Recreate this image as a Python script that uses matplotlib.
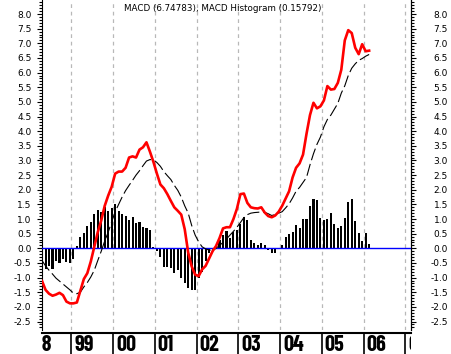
import numpy as np
import matplotlib
matplotlib.use("Agg")
import matplotlib.pyplot as plt
from matplotlib.ticker import MultipleLocator
from matplotlib.transforms import Bbox, TransformedBbox

plt.rcParams['axes.unicode_minus'] = False
plt.rcParams['font.family'] = 'DejaVu Sans'

# monthly values, first point ~ April/May 1998
start_year = 1998.3
macd = [-1.12, -1.42, -1.55, -1.62, -1.58, -1.52, -1.60, -1.82, -1.88, -1.88,
        -1.85, -1.45, -1.05, -0.85, -0.45, 0.05, 0.55, 0.95, 1.45, 1.80,
        2.10, 2.55, 2.62, 2.62, 2.75, 3.10, 3.14, 3.10, 3.37, 3.45,
        3.62, 3.30, 2.95, 2.55, 2.18, 2.05, 1.85, 1.62, 1.40, 1.28,
        1.15, 0.65, -0.15, -0.62, -0.90, -0.95, -0.72, -0.60, -0.35, -0.10,
        0.08, 0.35, 0.68, 0.72, 0.72, 1.00, 1.35, 1.85, 1.87, 1.55,
        1.40, 1.37, 1.36, 1.40, 1.22, 1.10, 1.06, 1.12, 1.25, 1.45,
        1.70, 1.95, 2.42, 2.75, 2.90, 3.20, 3.91, 4.55, 4.97, 4.78,
        4.85, 5.05, 5.54, 5.42, 5.44, 5.65, 6.10, 7.10, 7.45, 7.35,
        6.85, 6.63, 6.97, 6.73, 6.75]
signal = [-0.42, -0.60, -0.75, -0.88, -1.02, -1.12, -1.22, -1.32, -1.42, -1.53,
          -1.55, -1.50, -1.32, -1.17, -0.98, -0.75, -0.42, -0.10, 0.25, 0.55,
          0.90, 1.25, 1.50, 1.75, 1.97, 2.15, 2.32, 2.50, 2.65, 2.82,
          2.98, 3.03, 3.02, 2.93, 2.80, 2.62, 2.48, 2.35, 2.15, 1.98,
          1.75, 1.45, 1.20, 0.78, 0.45, 0.22, 0.05, -0.02, -0.06, -0.07,
          0.00, 0.10, 0.20, 0.32, 0.45, 0.58, 0.72, 0.88, 1.05, 1.15,
          1.20, 1.22, 1.23, 1.24, 1.23, 1.18, 1.12, 1.15, 1.20, 1.25,
          1.38, 1.52, 1.72, 1.95, 2.08, 2.25, 2.42, 2.85, 3.23, 3.55,
          3.80, 4.15, 4.40, 4.55, 4.75, 4.95, 5.30, 5.55, 5.90, 6.15,
          6.30, 6.42, 6.48, 6.56, 6.62]
hist = [-0.72, -0.72, -0.62, -0.70, -0.45, -0.50, -0.38, -0.47, -0.50, -0.36,
        0.08, 0.39, 0.51, 0.76, 0.89, 1.18, 1.30, 1.24, 1.41, 1.27,
        1.37, 1.53, 1.27, 1.18, 1.10, 0.96, 1.07, 0.85, 0.90, 0.72,
        0.68, 0.62, 0.06, -0.08, -0.30, -0.63, -0.65, -0.68, -0.85, -0.74,
        -1.02, -1.19, -1.35, -1.44, -1.42, -1.02, -0.80, -0.42, -0.17, -0.05,
        0.12, 0.30, 0.45, 0.60, 0.34, 0.57, 0.62, 0.84, 1.07, 0.96,
        0.28, 0.17, 0.11, 0.17, 0.10, -0.06, -0.15, -0.15, -0.03, 0.11,
        0.37, 0.48, 0.57, 0.79, 0.68, 1.01, 1.01, 1.44, 1.70, 1.64,
        1.05, 0.96, 1.01, 1.19, 0.83, 0.68, 0.76, 1.02, 1.59, 1.67,
        0.94, 0.51, 0.26, 0.51, 0.15, 0.17]
hist = hist[:len(macd)]
years = [1998, 1999, 2000, 2001, 2002, 2003, 2004, 2005, 2006, 2007]
year_labels = ["98", "99", "00", "01", "02", "03", "04", "05", "06", "07"]
title = "MACD (6.74783), MACD Histogram (0.15792)"

t = start_year + np.arange(len(macd)) / 12.0
xmin, xmax = 1998.298, 2007.136
ymin, ymax = -2.79, 8.48
yticks = np.arange(-2.5, 8.01, 0.5)
ylabels = ["%.1f" % v for v in yticks]

W, H = 451, 354
fig = plt.figure(figsize=(W / 100, H / 100), dpi=100)
ax = fig.add_axes([42 / W, 24 / H, 369 / W, 330 / H])

ax.bar(t, hist, width=0.05, color='black', zorder=2)
ax.axhline(0, color='#0000ff', lw=1, zorder=3)
ax.plot(t, signal, color='black', lw=0.8, dashes=(11, 3.5), zorder=4)
ax.plot(t, macd, color='#ff0000', lw=1.9, zorder=5)

for y in years[1:]:
    ax.axvline(y, color='#b8b8b8', lw=0.9, dashes=(3, 3), zorder=1)

ax.set_xlim(xmin, xmax)
ax.set_ylim(ymin, ymax)
ax.spines['top'].set_visible(False)
ax.spines['bottom'].set_visible(False)
ax.set_xticks([])
ax.set_yticks(yticks)
ax.set_yticklabels(ylabels)
ax.yaxis.set_minor_locator(MultipleLocator(0.1))
ax.tick_params(axis='y', which='both', direction='out', labelsize=6.5, width=0.8)
ax.tick_params(axis='y', which='major', length=3.6, pad=4)
ax.tick_params(axis='y', which='minor', length=2.2)

# right hand scale, labels flush right near the image edge
ax2 = ax.twinx()
ax2.set_ylim(ymin, ymax)
for s in ['top', 'bottom', 'left']:
    ax2.spines[s].set_visible(False)
ax2.set_yticks(yticks)
ax2.set_yticklabels(ylabels, ha='right')
ax2.yaxis.set_minor_locator(MultipleLocator(0.1))
ax2.tick_params(axis='y', which='both', direction='out', labelsize=6.5, width=0.8)
ax2.tick_params(axis='y', which='major', length=3.6, pad=23)
ax2.tick_params(axis='y', which='minor', length=2.2)

ax.text(0.49, 0.975, title, transform=ax.transAxes, ha='center', va='center',
        fontsize=6.3)

# year strip under the chart
sx = fig.add_axes([42 / W, 0, 369 / W, 21 / H])
sx.set_xlim(xmin, xmax)
sx.set_ylim(0, 1)
for s in ['left', 'right', 'bottom']:
    sx.spines[s].set_visible(False)
sx.spines['top'].set_linewidth(1.5)
sx.set_xticks([])
sx.set_yticks([])
clip = TransformedBbox(Bbox([[0, -1], [1, 3]]), sx.transAxes)
for y, lab in zip(years, year_labels):
    sx.axvline(y, color='black', lw=1.2)
    txt = sx.text(y + 0.07, 0.12, lab, fontsize=16, fontweight='bold', ha='left',
                  va='baseline', family=['Barlow Condensed', 'Asap Condensed', 'DejaVu Sans'])
    txt.set_clip_box(clip)
    txt.set_clip_on(True)

fig.savefig("out.png", dpi=100)
